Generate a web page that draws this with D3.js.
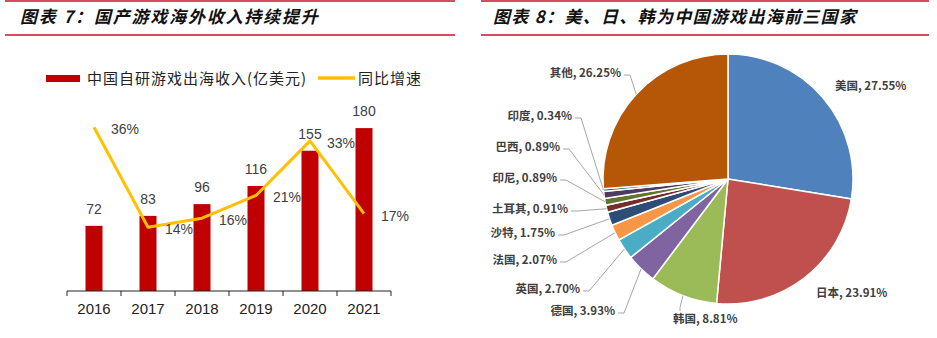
<!DOCTYPE html>
<html><head><meta charset="utf-8">
<script src="https://cdn.jsdelivr.net/npm/d3@7"></script>
<style>
html,body{margin:0;padding:0;background:#fff;}
svg{display:block;}
</style></head>
<body>
<svg id="c" width="937" height="338"></svg>
<script>
// ---- Data ----
const years = ["2016","2017","2018","2019","2020","2021"];
const revenue = [72, 83, 96, 116, 155, 180];
const growth = [0.36, 0.14, 0.16, 0.21, 0.33, 0.17];
const growthLabels = ["36%","14%","16%","21%","33%","17%"];
const seriesNames = ["中国自研游戏出海收入(亿美元)", "同比增速"];
const titleLeft = "图表 7：国产游戏海外收入持续提升";
const titleRight = "图表 8：美、日、韩为中国游戏出海前三国家";
const countries = ["美国","日本","韩国","德国","英国","法国","沙特","土耳其","印尼","巴西","印度","其他"];
const shares = [27.55, 23.91, 8.81, 3.93, 2.70, 2.07, 1.75, 0.91, 0.89, 0.89, 0.34, 26.25];
const pieColors = ["#4F81BD","#C0504D","#9BBB59","#8064A2","#4BACC6","#F79646","#2C4D75","#772C2A","#5F7530","#4D3B62","#276A7C","#B65708"];

const svg = d3.select("#c");
const red = "#C8102E";

// ---- Header rules & titles ----
[[5,455],[481,929]].forEach(([a,b])=>{
  svg.append("line").attr("x1",a).attr("x2",b).attr("y1",1).attr("y2",1).attr("stroke",red).attr("stroke-width",1.5);
  svg.append("line").attr("x1",a).attr("x2",b).attr("y1",35).attr("y2",35).attr("stroke",red).attr("stroke-width",1.5);
});
svg.append("text").attr("x",20).attr("y",23).text(titleLeft)
  .attr("font-family","'Noto Sans CJK SC'").attr("font-weight","bold").attr("font-style","italic")
  .attr("font-size",17).attr("letter-spacing",1.8).attr("fill","#111");
svg.append("text").attr("x",493).attr("y",23).text(titleRight)
  .attr("font-family","'Noto Sans CJK SC'").attr("font-weight","bold").attr("font-style","italic")
  .attr("font-size",17).attr("letter-spacing",1.3).attr("fill","#111");

// ---- Left: bar + line ----
const x = d3.scaleBand().domain(years).range([67,391]).paddingInner(0).paddingOuter(0);
const yL = d3.scaleLinear().domain([0,200]).range([291,110]);
const yR = d3.scaleLinear().domain([0,0.4]).range([291,109]);
const barW = 17;
const barColor = "#C00000", lineColor = "#FFC000";

svg.selectAll("rect.bar").data(years).enter().append("rect").attr("class","bar")
  .attr("x",d=>x(d)+x.bandwidth()/2-barW/2).attr("width",barW)
  .attr("y",(d,i)=>yL(revenue[i])).attr("height",(d,i)=>yL(0)-yL(revenue[i]))
  .attr("fill",barColor);

svg.selectAll("text.val").data(years).enter().append("text").attr("class","val")
  .attr("x",d=>x(d)+x.bandwidth()/2).attr("y",(d,i)=>yL(revenue[i])-12)
  .attr("text-anchor","middle").attr("font-family","'Liberation Sans'").attr("font-size",14)
  .attr("fill","#404040").text((d,i)=>revenue[i]);

const line = d3.line().x(d=>x(d[0])+x.bandwidth()/2).y(d=>yR(d[1]));
svg.append("path").datum(years.map((d,i)=>[d,growth[i]])).attr("d",line)
  .attr("fill","none").attr("stroke",lineColor).attr("stroke-width",3).attr("stroke-linejoin","round");

svg.selectAll("text.pct").data(years).enter().append("text").attr("class","pct")
  .attr("x",d=>x(d)+x.bandwidth()/2+17).attr("y",(d,i)=>yR(growth[i])+7)
  .attr("font-family","'Liberation Sans'").attr("font-size",14)
  .attr("fill","#404040").text((d,i)=>growthLabels[i]);

const ax = svg.append("g").attr("transform","translate(0,291)");
ax.append("line").attr("x1",67).attr("x2",391).attr("y1",0).attr("y2",0).attr("stroke","#222").attr("stroke-width",1);
const tickXs = years.map(d=>x(d)).concat([391]);
ax.selectAll("line.tk").data(tickXs).enter().append("line").attr("class","tk")
  .attr("x1",d=>d).attr("x2",d=>d).attr("y1",0).attr("y2",5).attr("stroke","#222");
ax.selectAll("text.yr").data(years).enter().append("text").attr("class","yr")
  .attr("x",d=>x(d)+x.bandwidth()/2).attr("y",23).attr("text-anchor","middle")
  .attr("font-family","'Liberation Sans'").attr("font-size",15).attr("fill","#222").text(d=>d);

// legend
svg.append("rect").attr("x",46).attr("y",75).attr("width",34).attr("height",7).attr("fill",barColor);
svg.append("text").attr("x",87).attr("y",84).text(seriesNames[0])
  .attr("font-family","'Noto Sans CJK SC'").attr("font-size",15).attr("letter-spacing",1).attr("fill","#222");
svg.append("line").attr("x1",318).attr("x2",355).attr("y1",78).attr("y2",78).attr("stroke",lineColor).attr("stroke-width",3.5);
svg.append("text").attr("x",358).attr("y",84).text(seriesNames[1])
  .attr("font-family","'Noto Sans CJK SC'").attr("font-size",15).attr("letter-spacing",1).attr("fill","#222");

// ---- Right: pie ----
const cx = 728, cy = 179, R = 125;
const pie = d3.pie().sort(null).value(d=>d.v).startAngle(0).endAngle(2*Math.PI);
const pdata = pie(countries.map((c,i)=>({c, v:shares[i], col:pieColors[i]})));
const arc = d3.arc().innerRadius(0).outerRadius(R);
const g = svg.append("g").attr("transform",`translate(${cx},${cy})`);
g.selectAll("path").data(pdata).enter().append("path").attr("d",arc)
  .attr("fill",d=>d.data.col).attr("stroke","#fff").attr("stroke-width",1.5);

// label layout (text anchor point, anchor side)
const labelLayout = {
  "美国":{x:835,y:86,a:"start",leader:false},
  "日本":{x:816,y:293,a:"start",leader:false},
  "韩国":{x:673,y:319,a:"start",leader:"up",lx:680},
  "德国":{x:615,y:311,a:"end",leader:true},
  "英国":{x:580,y:289,a:"end",leader:true},
  "法国":{x:557,y:260,a:"end",leader:true},
  "沙特":{x:555,y:233,a:"end",leader:true},
  "土耳其":{x:568,y:209,a:"end",leader:true},
  "印尼":{x:557,y:178,a:"end",leader:true},
  "巴西":{x:560,y:147,a:"end",leader:true},
  "印度":{x:572,y:116,a:"end",leader:true},
  "其他":{x:621,y:73,a:"end",leader:true}
};
const lg = svg.append("g");
pdata.forEach(d=>{
  const L = labelLayout[d.data.c];
  const mid = (d.startAngle+d.endAngle)/2;
  const ex = cx + R*Math.sin(mid), ey = cy - R*Math.cos(mid);
  if (L.leader === true) {
    const sx = L.x + 3, ex2 = L.x + 9;
    lg.append("polyline").attr("points",`${sx},${L.y+2} ${ex2},${L.y+2} ${ex},${ey}`)
      .attr("fill","none").attr("stroke","#A6A6A6").attr("stroke-width",1);
  } else if (L.leader === "up") {
    lg.append("polyline").attr("points",`${L.lx},${L.y-8} ${L.lx},${ey+12} ${ex},${ey}`)
      .attr("fill","none").attr("stroke","#A6A6A6").attr("stroke-width",1);
  }
  lg.append("text").attr("x",L.x).attr("y",L.y+4).attr("text-anchor",L.a)
    .attr("font-family","'Noto Sans CJK SC'").attr("font-weight","bold").attr("font-size",11.5)
    .attr("fill","#404040").text(`${d.data.c}, ${d3.format(".2f")(d.data.v)}%`);
});
</script>
</body></html>
